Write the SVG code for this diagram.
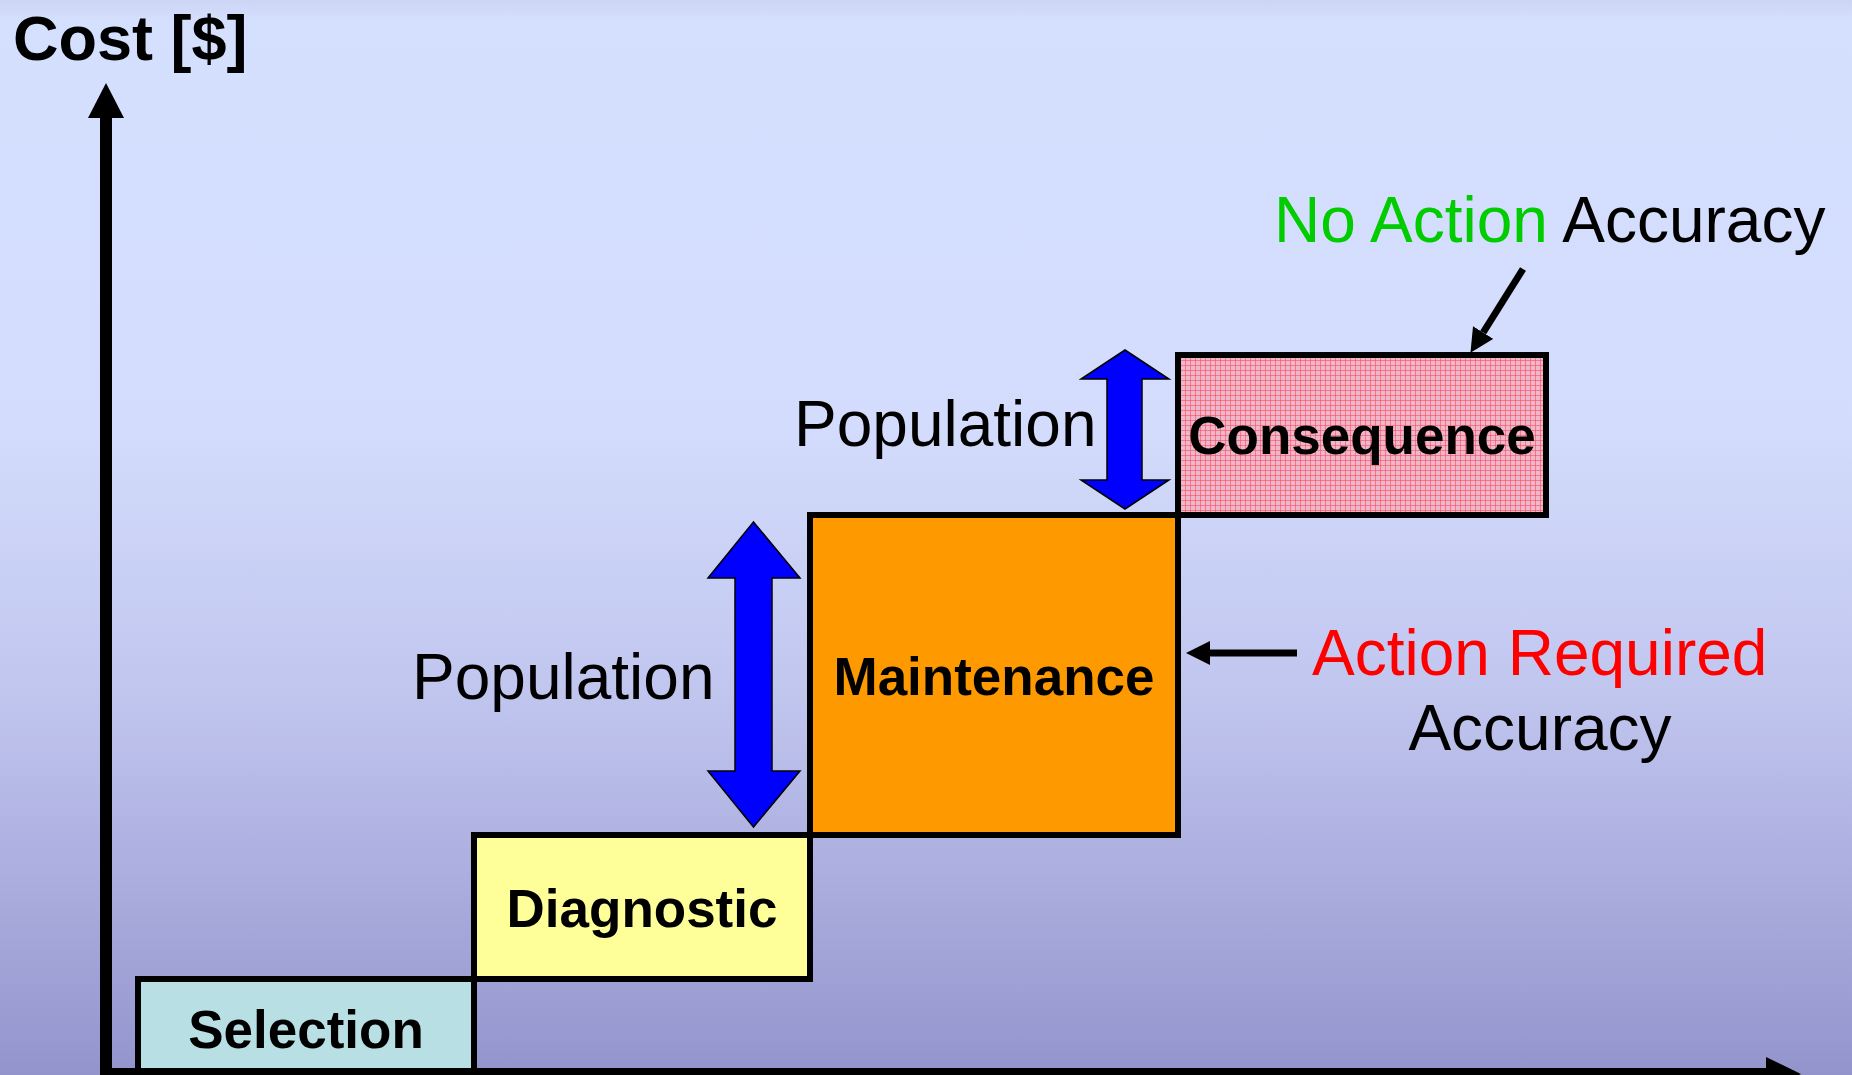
<svg xmlns="http://www.w3.org/2000/svg" width="1852" height="1075" viewBox="0 0 1852 1075">
<defs>
<linearGradient id="bg" x1="0" y1="0" x2="0" y2="1">
<stop offset="0" stop-color="#CCD6F4"/>
<stop offset="0.02" stop-color="#D5DFFE"/>
<stop offset="0.40" stop-color="#D3DCFC"/>
<stop offset="0.65" stop-color="#C0C5EE"/>
<stop offset="1" stop-color="#9494CD"/>
</linearGradient>
<pattern id="hatch" patternUnits="userSpaceOnUse" width="5" height="5">
<rect width="5" height="5" fill="#EDB8CC"/>
<rect width="5" height="1" fill="#FF4050" opacity="0.55"/>
<rect width="1" height="5" fill="#FF4050" opacity="0.55"/>
</pattern>
<marker id="head" viewBox="0 0 24 24" refX="0" refY="12" markerWidth="24" markerHeight="24" markerUnits="userSpaceOnUse" orient="auto">
<path d="M0,0 L24,12 L0,24 Z" fill="#000"/>
</marker>
</defs>
<style>
.box{stroke:#000;stroke-width:6}
.bl{font-family:"Liberation Sans",Arial,sans-serif;font-weight:bold;font-size:53px;fill:#000;text-anchor:middle}
.lbl{font-family:"Liberation Sans",Arial,sans-serif;font-size:64px;fill:#000}
.green{fill:#00CC00}
.red{fill:#FF0000}
.dbl{fill:#0000FF;stroke:#000;stroke-width:1.5}
.ptr{stroke:#000;stroke-width:7;fill:none}
</style>
<rect width="1852" height="1075" fill="url(#bg)"/>

<g id="axes">
<rect x="100" y="116" width="12" height="959" fill="#000"/>
<path d="M106,83 L124,118 L88,118 Z" fill="#000"/>
<rect x="100" y="1068" width="1668" height="12" fill="#000"/>
<path d="M1766,1057 L1801,1074 L1766,1091 Z" fill="#000"/>
<text x="13" y="60" font-family="'Liberation Sans',Arial,sans-serif" font-weight="bold" font-size="63">Cost [$]</text>
</g>

<g id="selection">
<rect class="box" x="138" y="979" width="336" height="92" fill="#B8E0E4"/>
<text class="bl" x="306" y="1048">Selection</text>
</g>

<g id="diagnostic">
<rect class="box" x="474" y="835" width="336" height="144" fill="#FFFF99"/>
<text class="bl" x="642" y="927">Diagnostic</text>
</g>

<g id="maintenance">
<rect class="box" x="810" y="515" width="368" height="320" fill="#FF9900"/>
<text class="bl" x="994" y="695">Maintenance</text>
</g>

<g id="consequence">
<rect class="box" x="1178" y="355" width="368" height="160" fill="url(#hatch)"/>
<text class="bl" x="1362" y="454">Consequence</text>
</g>

<g id="population-lower">
<text class="lbl" x="412" y="699">Population</text>
</g>
<g id="population-upper">
<text class="lbl" x="794" y="446">Population</text>
</g>

<g id="no-action-label">
<text class="lbl" x="1274" y="242"><tspan class="green">No Action</tspan> Accuracy</text>
</g>

<g id="action-required-label">
<text class="lbl red" x="1312" y="675">Action Required</text>
<text class="lbl" x="1540" y="750" text-anchor="middle">Accuracy</text>
</g>

<g id="connectors">
<path class="dbl" d="M753.5,522 L800,578 L772,578 L772,771 L800,771 L753.5,827 L708,771 L735,771 L735,578 L708,578 Z"/>
<path class="dbl" d="M1125,350 L1169,379 L1142,379 L1142,480 L1169,480 L1125,509 L1081,480 L1107,480 L1107,379 L1081,379 Z"/>
<line class="ptr" x1="1523" y1="269" x2="1483.2" y2="332.5" marker-end="url(#head)"/>
<line class="ptr" x1="1297" y1="653" x2="1210" y2="653" marker-end="url(#head)"/>
</g>
</svg>
